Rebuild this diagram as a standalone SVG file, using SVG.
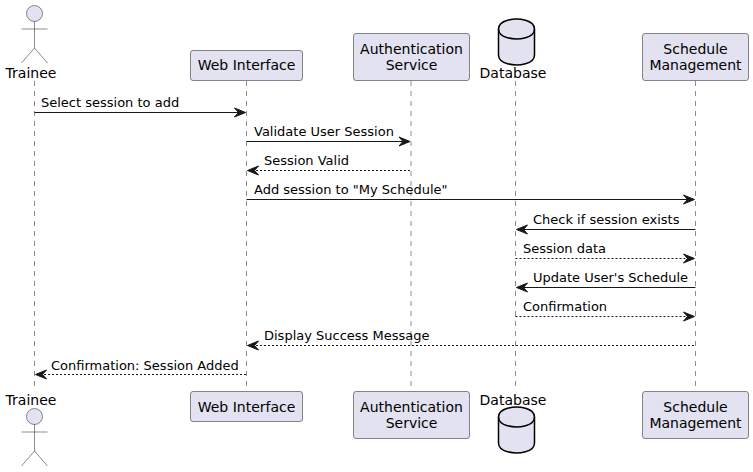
<svg xmlns="http://www.w3.org/2000/svg" width="753" height="472" viewBox="0 0 753 472">
<style>
text{font-family:"DejaVu Sans",sans-serif;font-size:14px;fill:#000}
.msg{font-size:13px}
.m{text-anchor:middle}
.life{stroke:#181818;stroke-width:.5;stroke-dasharray:5,5;fill:none}
.box{fill:#E2E2F0;stroke:#181818;stroke-width:.5}
.body{fill:none;stroke:#181818;stroke-width:.5}
.db{fill:#E2E2F0;stroke:#000;stroke-width:1.5}
.dbl{fill:none;stroke:#000;stroke-width:1.5}
.a{stroke:#181818;stroke-width:1;fill:none}
.d{stroke-dasharray:2,2}
.h{fill:#181818;stroke:#181818}
</style>
<defs>
<g id="actor"><circle class="box" cx="0" cy="13.500" r="8"/><path class="body" d="M0 21.500V48M-13 29H13M0 48L-13 63M0 48L13 63"/></g>
<g id="cyl"><path class="db" d="M-18 10C-18 0 0 0 0 0C0 0 18 0 18 10V36C18 46 0 46 0 46C0 46 -18 46 -18 36Z"/><path class="dbl" d="M-18 10C-18 20 0 20 0 20C0 20 18 20 18 10"/></g>
<path id="r" class="h" d="M0 0L-11 -4.500L-7 0L-11 4.500Z"/>
<path id="l" class="h" d="M0 0L11 -4.500L7 0L11 4.500Z"/>
</defs>
<g id="connectors">
<path class="life" d="M34.500 81V391M246.500 81V391M411 81V391M515.500 81V386M695.500 81V391"/>
<path class="a" d="M34.500 112.500H240"/><use href="#r" x="245.500" y="112.500"/>
<text class="msg" x="41" y="107">Select session to add</text>
<path class="a" d="M246.500 141.500H405"/><use href="#r" x="410" y="141.500"/>
<text class="msg" x="254" y="136">Validate User Session</text>
<path class="a d" d="M252 170.500H411"/><use href="#l" x="247.500" y="170.500"/>
<text class="msg" x="264" y="165">Session Valid</text>
<path class="a" d="M246.500 199.500H689"/><use href="#r" x="694.500" y="199.500"/>
<text class="msg" x="254" y="194">Add session to "My Schedule"</text>
<path class="a" d="M522 229.500H695.500"/><use href="#l" x="516.500" y="229.500"/>
<text class="msg" x="533" y="224">Check if session exists</text>
<path class="a d" d="M515.500 258.500H689"/><use href="#r" x="694.500" y="258.500"/>
<text class="msg" x="523" y="253">Session data</text>
<path class="a" d="M522 287.500H695.500"/><use href="#l" x="516.500" y="287.500"/>
<text class="msg" x="533" y="282">Update User's Schedule</text>
<path class="a d" d="M515.500 316.500H689"/><use href="#r" x="694.500" y="316.500"/>
<text class="msg" x="523" y="311">Confirmation</text>
<path class="a d" d="M252 345.500H695.500"/><use href="#l" x="247.500" y="345.500"/>
<text class="msg" x="264" y="340">Display Success Message</text>
<path class="a d" d="M40 374.500H246.500"/><use href="#l" x="35.500" y="374.500"/>
<text class="msg" x="51" y="370">Confirmation: Session Added</text>
</g>
<g id="node-trainee-top"><use href="#actor" x="34.500" y="0"/><text class="m" x="31" y="78">Trainee</text></g>
<g id="node-web-top"><rect class="box" x="190.500" y="50.500" width="112" height="30" rx="2.500"/><text class="m" x="246.500" y="70">Web Interface</text></g>
<g id="node-auth-top"><rect class="box" x="353.500" y="33.500" width="116" height="47" rx="2.500"/><text class="m" x="411.500" y="54">Authentication</text><text class="m" x="411.500" y="70">Service</text></g>
<g id="node-db-top"><use href="#cyl" x="516.500" y="19"/><text class="m" x="513" y="78">Database</text></g>
<g id="node-sched-top"><rect class="box" x="642.500" y="33.500" width="106" height="47" rx="2.500"/><text class="m" x="695.500" y="54">Schedule</text><text class="m" x="695.500" y="70">Management</text></g>
<g id="node-trainee-bottom"><text class="m" x="31" y="405">Trainee</text><use href="#actor" x="34.500" y="403"/></g>
<g id="node-web-bottom"><rect class="box" x="190.500" y="391.500" width="112" height="30" rx="2.500"/><text class="m" x="246.500" y="412">Web Interface</text></g>
<g id="node-auth-bottom"><rect class="box" x="353.500" y="391.500" width="116" height="47" rx="2.500"/><text class="m" x="411.500" y="412">Authentication</text><text class="m" x="411.500" y="428">Service</text></g>
<g id="node-db-bottom"><text class="m" x="513" y="405">Database</text><use href="#cyl" x="516.500" y="407"/></g>
<g id="node-sched-bottom"><rect class="box" x="642.500" y="391.500" width="106" height="47" rx="2.500"/><text class="m" x="695.500" y="412">Schedule</text><text class="m" x="695.500" y="428">Management</text></g>
</svg>
